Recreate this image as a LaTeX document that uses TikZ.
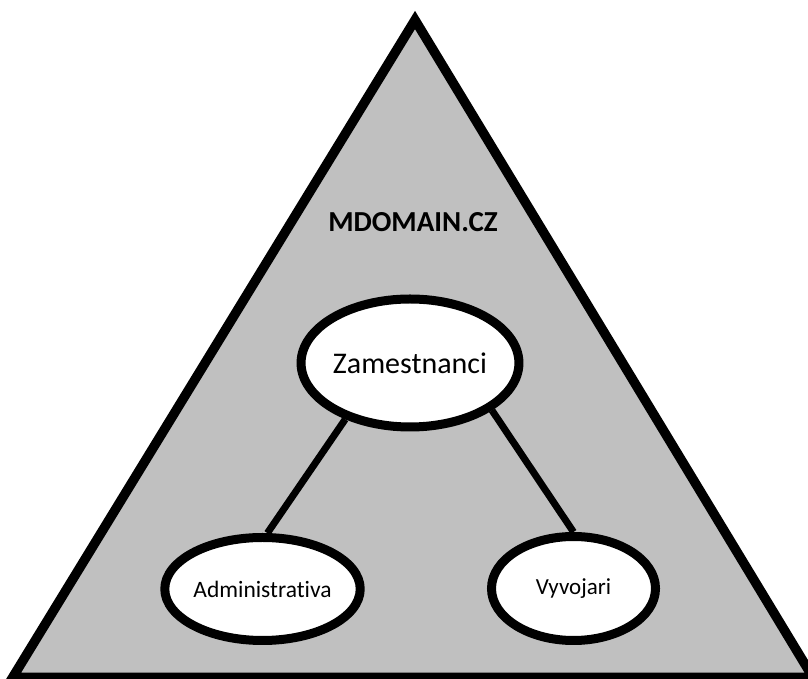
\documentclass[tikz,border=0pt]{standalone}
\usepackage{fontspec}
\setmainfont{Carlito}[Ligatures=CommonOff]
\usepackage{xcolor}
\usepackage{tikz}
\usetikzlibrary{shapes.geometric}
\definecolor{domaingray}{RGB}{192,192,192}

\begin{document}
\begin{tikzpicture}[x=1pt,y=1pt,
    group/.style={draw,ellipse,fill=white,line width=9pt,inner sep=0pt},
    link/.style={line width=7pt}]
    \useasboundingbox (0,0) rectangle (808,679);
    \clip (0,0) rectangle (808,679);
    \draw[fill=domaingray,line width=9.5pt,line join=miter] (415,659) -- (12.6,1.5) -- (813,1.5) -- cycle;
    \node (dom) at (413,457) {\fontsize{29}{33}\selectfont\bfseries MDOMAIN.CZ};
    \node[group,minimum width=198pt,minimum height=128pt] (zam) at (410,316) {\fontsize{30}{34}\selectfont Zamestnanci};
    \node[group,minimum width=166pt,minimum height=103pt] (admin) at (262.5,90) {\fontsize{23.5}{27}\selectfont Administrativa};
    \node[group,minimum width=164pt,minimum height=104pt] (vyv) at (573.5,90.5) {\fontsize{23}{27}\selectfont Vyvojari};
    \draw[link] (zam.221) -- (admin.85);
    \draw[link] (zam.330) -- (vyv.90);
  \end{tikzpicture}
\end{document}
